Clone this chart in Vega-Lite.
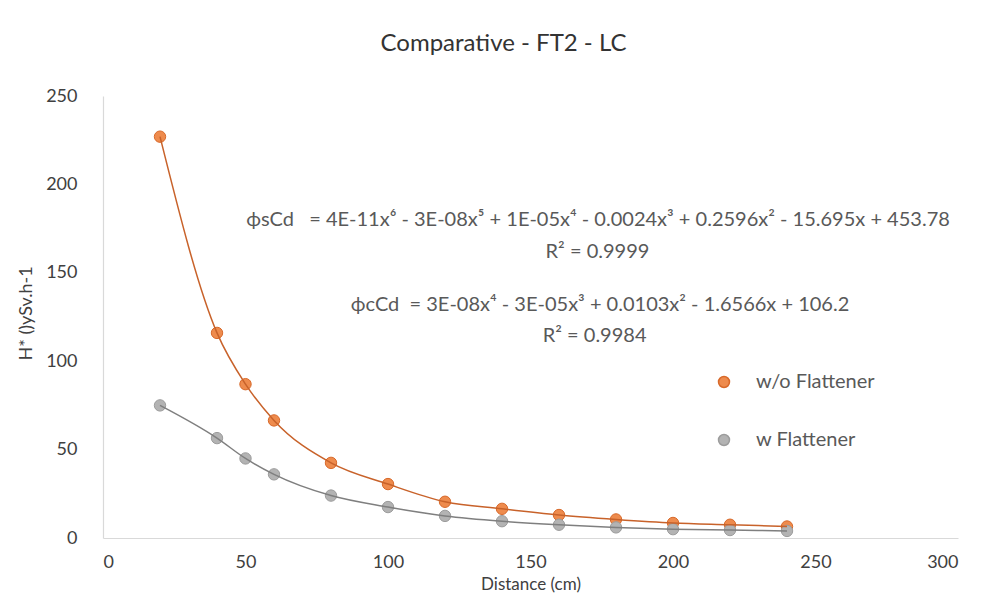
{
  "$schema": "https://vega.github.io/schema/vega-lite/v6.json",
  "autosize": {"type": "none"},
  "width": 855,
  "height": 442,
  "padding": {"left": 103, "top": 96, "right": 27, "bottom": 70},
  "background": "#ffffff",
  "title": {
    "text": "Comparative - FT2 - LC",
    "anchor": "middle",
    "frame": "group",
    "dx": -27,
    "offset": 31,
    "font": "Lato",
    "fontSize": 24,
    "fontWeight": "normal",
    "color": "#333333"
  },
  "config": {
    "view": {"stroke": null},
    "axis": {
      "grid": false,
      "ticks": false,
      "tickSize": 0,
      "domainColor": "#D9D9D9",
      "domainWidth": 1.2,
      "labelFont": "Lato",
      "labelFontSize": 18,
      "labelColor": "#404040",
      "titleFont": "Lato",
      "titleFontSize": 17,
      "titleFontWeight": "normal",
      "titleColor": "#404040"
    }
  },
  "datasets": {
    "pts": [
      {"distance": 20, "dose": 227, "series": "w/o Flattener"},
      {"distance": 40, "dose": 116, "series": "w/o Flattener"},
      {"distance": 50, "dose": 87, "series": "w/o Flattener"},
      {"distance": 60, "dose": 66.5, "series": "w/o Flattener"},
      {"distance": 80, "dose": 42.5, "series": "w/o Flattener"},
      {"distance": 100, "dose": 30.5, "series": "w/o Flattener"},
      {"distance": 120, "dose": 20.5, "series": "w/o Flattener"},
      {"distance": 140, "dose": 16.5, "series": "w/o Flattener"},
      {"distance": 160, "dose": 13, "series": "w/o Flattener"},
      {"distance": 180, "dose": 10.5, "series": "w/o Flattener"},
      {"distance": 200, "dose": 8.5, "series": "w/o Flattener"},
      {"distance": 220, "dose": 7.5, "series": "w/o Flattener"},
      {"distance": 240, "dose": 6.5, "series": "w/o Flattener"},
      {"distance": 20, "dose": 75, "series": "w Flattener"},
      {"distance": 40, "dose": 56.5, "series": "w Flattener"},
      {"distance": 50, "dose": 45, "series": "w Flattener"},
      {"distance": 60, "dose": 36, "series": "w Flattener"},
      {"distance": 80, "dose": 24, "series": "w Flattener"},
      {"distance": 100, "dose": 17.5, "series": "w Flattener"},
      {"distance": 120, "dose": 12.5, "series": "w Flattener"},
      {"distance": 140, "dose": 9.5, "series": "w Flattener"},
      {"distance": 160, "dose": 7.5, "series": "w Flattener"},
      {"distance": 180, "dose": 6, "series": "w Flattener"},
      {"distance": 200, "dose": 5, "series": "w Flattener"},
      {"distance": 220, "dose": 4.5, "series": "w Flattener"},
      {"distance": 240, "dose": 4, "series": "w Flattener"}
    ],
    "eqs": [
      {"x": 173.7, "y": 180, "label": "ϕsCd\u00a0\u00a0\u00a0= 4E-11x⁶ - 3E-08x⁵ + 1E-05x⁴ - 0.0024x³ + 0.2596x² - 15.695x + 453.78"},
      {"x": 173.5, "y": 161.5, "label": "R² = 0.9999"},
      {"x": 174.4, "y": 132, "label": "ϕcCd\u00a0\u00a0= 3E-08x⁴ - 3E-05x³ + 0.0103x² - 1.6566x + 106.2"},
      {"x": 172.5, "y": 114.5, "label": "R² = 0.9984"}
    ]
  },
  "layer": [
    {
      "data": {"name": "pts"},
      "mark": {"type": "point", "filled": true, "size": 130, "strokeWidth": 1, "opacity": 1},
      "encoding": {
        "x": {
          "field": "distance",
          "type": "quantitative",
          "scale": {"domain": [0, 300], "nice": false},
          "axis": {"values": [0, 50, 100, 150, 200, 250, 300], "title": "Distance (cm)", "labelPadding": 15, "titlePadding": 5}
        },
        "y": {
          "field": "dose",
          "type": "quantitative",
          "scale": {"domain": [0, 250], "nice": false},
          "axis": {"values": [0, 50, 100, 150, 200, 250], "title": "H* ()ySv.h-1", "labelPadding": 26, "titleX": -77, "titleY": 217, "titleAlign": "center", "titleBaseline": "middle", "titleAngle": 270, "titleFontSize": 18}
        },
        "fill": {
          "field": "series",
          "type": "nominal",
          "scale": {"domain": ["w/o Flattener", "w Flattener"], "range": ["#EE8B4D", "#B3B3B3"]},
          "legend": {
            "title": null,
            "orient": "none",
            "legendX": 611,
            "legendY": 276,
            "padding": 0,
            "symbolSize": 120,
            "rowPadding": 38,
            "labelOffset": 22,
            "labelFont": "Lato",
            "labelFontSize": 20,
            "labelColor": "#595959"
          }
        },
        "stroke": {
          "field": "series",
          "type": "nominal",
          "scale": {"domain": ["w/o Flattener", "w Flattener"], "range": ["#D8692A", "#9C9C9C"]},
          "legend": null
        }
      }
    },
    {
      "data": {"name": "pts"},
      "mark": {"type": "line", "interpolate": "monotone", "strokeWidth": 1.5},
      "encoding": {
        "x": {"field": "distance", "type": "quantitative"},
        "y": {"field": "dose", "type": "quantitative"},
        "detail": {"field": "series", "type": "nominal"},
        "color": {
          "field": "series",
          "type": "nominal",
          "scale": {"domain": ["w/o Flattener", "w Flattener"], "range": ["#C8622A", "#7F7F7F"]},
          "legend": null
        }
      }
    },
    {
      "data": {"name": "eqs"},
      "mark": {"type": "text", "font": "Lato", "fontSize": 20, "color": "#595959", "align": "center", "baseline": "middle"},
      "encoding": {
        "x": {"field": "x", "type": "quantitative"},
        "y": {"field": "y", "type": "quantitative"},
        "text": {"field": "label", "type": "nominal"}
      }
    }
  ]
}
